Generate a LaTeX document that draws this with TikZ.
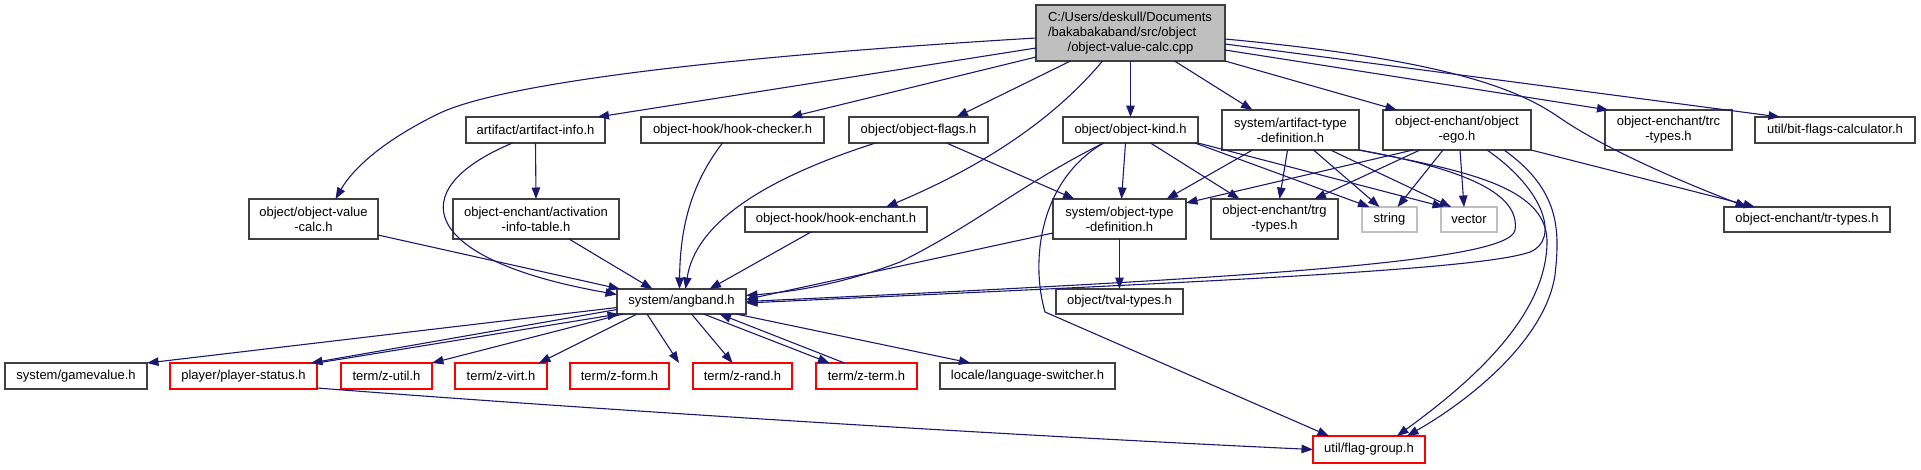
\documentclass[tikz,border=0pt]{standalone}
\usepackage{fontspec}
\setmainfont{Liberation Sans}
\usetikzlibrary{arrows.meta}
\definecolor{dxedge}{RGB}{25,25,112}
\definecolor{dxroot}{RGB}{191,191,191}
\definecolor{dxframe}{RGB}{64,64,64}
\definecolor{dxred}{RGB}{255,0,0}

\begin{document}
\begin{tikzpicture}[x=1pt,y=-1pt,
  hdr/.style={draw=dxframe,line width=1.1pt,fill=white,inner sep=0pt,outer sep=0pt,
    align=center,font=\fontsize{13}{15}\selectfont,minimum height=26pt},
  hdrtwo/.style={hdr,minimum height=40pt},
  hdrred/.style={hdr,draw=dxred},
  hdrsys/.style={hdr,draw=dxroot,minimum height=25pt},
  dep/.style={draw=dxedge,line width=1.1pt,-{Triangle[length=11.5pt,width=8.5pt]}}
]
\useasboundingbox (0,0) rectangle (1921,469);

% root file
\node[hdr,fill=dxroot,minimum width=189pt,minimum height=56pt] (main) at (1130.5,33)
  {\makebox[165pt][l]{C:/Users/deskull/Documents}\\\makebox[165pt][l]{/bakabakaband/src/object}\\/object-value-calc.cpp};

% first row
\node[hdr,minimum width=139pt] (artinfo) at (535.5,130) {artifact/artifact-info.h};
\node[hdr,minimum width=183pt] (hookcheck) at (732.5,130) {object-hook/hook-checker.h};
\node[hdr,minimum width=139pt] (objflags) at (918.5,130) {object/object-flags.h};
\node[hdr,minimum width=135pt] (objkind) at (1130.5,130) {object/object-kind.h};
\node[hdrtwo,minimum width=137pt] (artdef) at (1290.5,130) {system/artifact-type\\-definition.h};
\node[hdrtwo,minimum width=148pt] (objego) at (1457,130) {object-enchant/object\\-ego.h};
\node[hdrtwo,minimum width=127pt] (trc) at (1668.5,130) {object-enchant/trc\\-types.h};
\node[hdr,minimum width=160pt] (bitflags) at (1835,130) {util/bit-flags-calculator.h};

% second row
\node[hdrtwo,minimum width=129pt] (valcalch) at (313.5,219) {object/object-value\\-calc.h};
\node[hdrtwo,minimum width=166pt] (acttable) at (536,219) {object-enchant/activation\\-info-table.h};
\node[hdr,minimum width=182pt,minimum height=25pt] (hookench) at (836,219.5) {object-hook/hook-enchant.h};
\node[hdrtwo,minimum width=133pt] (objtypedef) at (1119.5,219) {system/object-type\\-definition.h};
\node[hdrtwo,minimum width=127pt] (trg) at (1274.5,219) {object-enchant/trg\\-types.h};
\node[hdrsys,minimum width=55pt] (string) at (1389.5,219.5) {string};
\node[hdrsys,minimum width=56pt] (vector) at (1469,219.5) {vector};
\node[hdr,minimum width=166pt,minimum height=25pt] (trtypes) at (1807,219.5) {object-enchant/tr-types.h};

% third row
\node[hdr,minimum width=129pt,minimum height=25pt] (angband) at (681.5,301.5) {system/angband.h};
\node[hdr,minimum width=127pt,minimum height=25pt] (tval) at (1119.5,301.5) {object/tval-types.h};

% bottom row
\node[hdr,minimum width=142pt] (gamevalue) at (76,376) {system/gamevalue.h};
\node[hdrred,minimum width=147pt] (playerstatus) at (243.5,376) {player/player-status.h};
\node[hdrred,minimum width=91pt] (zutil) at (386.5,376) {term/z-util.h};
\node[hdrred,minimum width=92pt] (zvirt) at (501,376) {term/z-virt.h};
\node[hdrred,minimum width=99pt] (zform) at (619.5,376) {term/z-form.h};
\node[hdrred,minimum width=99pt] (zrand) at (742.5,376) {term/z-rand.h};
\node[hdrred,minimum width=101pt] (zterm) at (866.5,376) {term/z-term.h};
\node[hdr,minimum width=175pt] (lang) at (1027.5,376) {locale/language-switcher.h};
\node[hdrred,minimum width=112pt,minimum height=27pt] (flaggroup) at (1369,449.5) {util/flag-group.h};

% includes of the root file
\draw[dep] ([yshift=-5]main.west) .. controls (700,58) and (500,85) .. (440,113)
  .. controls (390,137) and (355,165) .. ([xshift=22]valcalch.north);
\draw[dep] ([yshift=-15]main.west) -- ([xshift=62]artinfo.north);
\draw[dep] ([yshift=-24]main.west) -- ([xshift=58]hookcheck.north);
\draw[dep] ([xshift=-60]main.south) -- ([xshift=38]objflags.north);
\draw[dep] ([xshift=-28]main.south) .. controls (1070,100) and (1010,155) .. ([xshift=50]hookench.north);
\draw[dep] (main.south) -- (objkind.north);
\draw[dep] ([xshift=44]main.south) -- ([xshift=-38]artdef.north);
\draw[dep] (main.south east) -- ([xshift=-60]objego.north);
\draw[dep] ([yshift=-17]main.east) -- ([xshift=-60]trc.north);
\draw[dep] ([yshift=-11]main.east) -- ([xshift=-55]bitflags.north);
\draw[dep] ([yshift=-6]main.east) .. controls (1450,60) and (1520,90) .. (1560,118)
  .. controls (1610,152) and (1690,185) .. ([xshift=-60]trtypes.north);

% into system/angband.h
\draw[dep] ([yshift=-16]valcalch.east) -- ([xshift=3]angband.north west);
\draw[dep] ([xshift=-23]artinfo.south) .. controls (400,190) and (420,260) .. ([yshift=7]angband.west);
\draw[dep] (artinfo.south) -- (acttable.north);
\draw[dep] ([xshift=33]acttable.south) -- ([xshift=-29]angband.north);
\draw[dep] ([xshift=-10]hookcheck.south) .. controls (690,185) and (680,230) .. ([xshift=-2]angband.north);
\draw[dep] ([xshift=-43]objflags.south) .. controls (760,180) and (695,225) .. ([xshift=4]angband.north);
\draw[dep] ([xshift=-25]hookench.south) -- ([xshift=28]angband.north);
\draw[dep] ([xshift=-27]objkind.south) .. controls (1020,185) and (975,225) .. (900,262)
  .. controls (840,285) and (790,292) .. ([yshift=6]angband.east);
\draw[dep] ([yshift=-14]objtypedef.west) -- ([yshift=2]angband.east);
\draw[dep] (artdef.south east) .. controls (1470,170) and (1520,195) .. (1515,230)
  .. controls (1510,262) and (1250,278) .. (angband.east);
\draw[dep] ([xshift=30]objego.south) .. controls (1545,190) and (1560,240) .. (1530,252)
  .. controls (1480,270) and (1200,282) .. ([yshift=-1.5]angband.east);

% object/object-flags.h and object/object-kind.h
\draw[dep] ([xshift=28]objflags.south) -- ([xshift=-45]objtypedef.north);
\draw[dep] ([xshift=-5]objkind.south) -- ([xshift=2]objtypedef.north);
\draw[dep] ([xshift=20]objkind.south) -- ([xshift=-35]trg.north);
\draw[dep] ([xshift=-3]objkind.south east) -- ([xshift=-20]string.north);
\draw[dep] (objkind.south east) -- ([xshift=-25]vector.north);
\draw[dep] ([xshift=-27]objkind.south) .. controls (1040,180) and (1030,260) .. (1045,312)
  -- ([xshift=-40]flaggroup.north);

% system/artifact-type-definition.h
\draw[dep] ([xshift=-38]artdef.south) -- ([xshift=47]objtypedef.north);
\draw[dep] ([xshift=-3]artdef.south) -- ([xshift=5]trg.north);
\draw[dep] ([xshift=23]artdef.south) -- ([xshift=-10]string.north);
\draw[dep] ([xshift=40]artdef.south) -- ([xshift=-18]vector.north);
\draw[dep] (artdef.south east) .. controls (1460,170) and (1545,185) .. (1547,240)
  .. controls (1548,320) and (1460,390) .. ([xshift=28]flaggroup.north);

% object-enchant/object-ego.h
\draw[dep] ([xshift=-44]objego.south) -- ([yshift=16]objtypedef.east);
\draw[dep] ([xshift=-37]objego.south) -- ([xshift=40]trg.north);
\draw[dep] ([xshift=-14]objego.south) -- ([xshift=8]string.north);
\draw[dep] ([xshift=3]objego.south) -- ([xshift=-5]vector.north);
\draw[dep] (objego.south east) -- ([xshift=-52]trtypes.north);
\draw[dep] ([xshift=47]objego.south) .. controls (1560,190) and (1560,230) .. (1555,275)
  .. controls (1545,340) and (1470,400) .. ([xshift=38]flaggroup.north);

% system/object-type-definition.h
\draw[dep] (objtypedef.south) -- (tval.north);

% out of system/angband.h
\draw[dep] ([yshift=-6]angband.west) -- (gamevalue.north east);
\draw[dep] ([yshift=-8]angband.west) -- ([xshift=-6]playerstatus.north east);
\draw[dep] (playerstatus.north east) -- ([xshift=2]angband.south west);
\foreach \dst/\sx/\tx in {zutil/6/45.5, zvirt/20/38, zform/30/59.5} {
  \draw[dep] ([xshift=\sx]angband.south west) -- ([xshift=\tx]\dst.north);
}
\draw[dep] ([xshift=10]angband.south) -- ([xshift=-10]zrand.north);
\draw[dep] ([xshift=22]angband.south) -- ([xshift=-37]zterm.north);
\draw[dep] ([xshift=-22]zterm.north) -- ([xshift=38]angband.south);
\draw[dep] ([xshift=-10]angband.south east) -- ([xshift=-57]lang.north);

% player/player-status.h
\draw[dep] ([yshift=-12]playerstatus.east) .. controls (600,410) and (1000,435) .. (flaggroup.west);

\end{tikzpicture}
\end{document}
